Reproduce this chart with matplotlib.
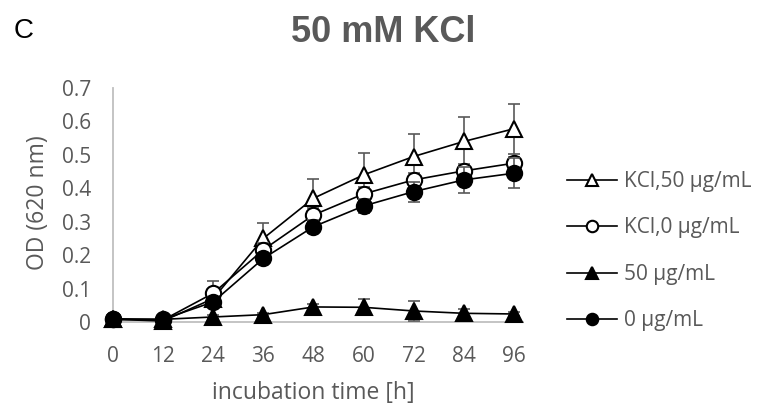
import matplotlib
matplotlib.use("Agg")
import matplotlib.pyplot as plt

# ---- data ----
hours = [0, 12, 24, 36, 48, 60, 72, 84, 96]
tick_labels = ["0", "12", "24", "36", "48", "60", "72", "84", "96"]

kcl_50 = [0.008, 0.003, 0.070, 0.250, 0.370, 0.440, 0.495, 0.540, 0.578]
kcl_50_err = [0.003, 0.003, 0.020, 0.045, 0.058, 0.066, 0.068, 0.072, 0.075]

kcl_0 = [0.010, 0.006, 0.086, 0.216, 0.320, 0.383, 0.425, 0.452, 0.475]
kcl_0_err = [0.003, 0.003, 0.038, 0.020, 0.020, 0.020, 0.020, 0.020, 0.020]

ab_50 = [0.008, 0.008, 0.015, 0.022, 0.045, 0.044, 0.033, 0.026, 0.024]
ab_50_err = [0.002, 0.002, 0.005, 0.005, 0.010, 0.024, 0.030, 0.012, 0.007]

ctrl_0 = [0.008, 0.008, 0.060, 0.190, 0.285, 0.347, 0.390, 0.425, 0.445]
ctrl_0_err = [0.003, 0.003, 0.015, 0.015, 0.020, 0.020, 0.030, 0.040, 0.045]

labels = ["KCl,50 \u00b5g/mL", "KCl,0 \u00b5g/mL", "50 \u00b5g/mL", "0 \u00b5g/mL"]

plt.rcParams['font.family'] = ['Open Sans', 'DejaVu Sans']
gray_txt = "#595959"
fs_tick = 15
fs_title_axis = 16.5

fig = plt.figure(figsize=(7.61, 4.08), dpi=100)
ax = fig.add_axes([113/761, 1-322/408, 410/761, 234/408])

series = [
    (kcl_50, kcl_50_err, "^", "white", 12),
    (kcl_0, kcl_0_err, "o", "white", 11),
    (ab_50, ab_50_err, "^", "black", 12),
    (ctrl_0, ctrl_0_err, "o", "black", 11),
]
handles = []
for i, ((vals, errs, mk, fc, ms), lab) in enumerate(zip(series, labels)):
    ax.errorbar(hours, vals, yerr=errs, fmt="none", ecolor="#595959",
                elinewidth=1.2, capsize=4.5, capthick=1.2, zorder=2 + i*2, clip_on=False)
    ln, = ax.plot(hours, vals, color="black", lw=1.2, marker=mk, markersize=ms,
                  markerfacecolor=fc, markeredgecolor="black", markeredgewidth=1.5,
                  zorder=3 + i*2, clip_on=False, label=lab)
    handles.append(ln)

ax.set_xlim(0, 98.2)
ax.set_ylim(0, 0.7)
ax.set_xticks(hours)
ax.set_xticklabels(tick_labels)
ax.set_yticks([0, 0.1, 0.2, 0.3, 0.4, 0.5, 0.6, 0.7])
ax.set_yticklabels(["0", "0.1", "0.2", "0.3", "0.4", "0.5", "0.6", "0.7"])
ax.tick_params(axis="both", length=0, labelsize=fs_tick, labelcolor=gray_txt)
ax.tick_params(axis="x", pad=17)
ax.tick_params(axis="y", pad=16)
for s in ["top", "right"]:
    ax.spines[s].set_visible(False)
for s in ["left", "bottom"]:
    ax.spines[s].set_color("#BFBFBF")
    ax.spines[s].set_linewidth(1.3)

fig.text(38/761, 1-203/408, "OD (620 nm)", fontsize=fs_title_axis, color=gray_txt,
         rotation=90, ha="center", va="center")
fig.text(313/761, 1-393/408, "incubation time [h]", fontsize=fs_title_axis,
         color=gray_txt, ha="center", va="center")

fig.text(383/761, 1-32/408, "50 mM KCl", fontsize=26, fontweight="bold",
         color=gray_txt, ha="center", va="center", family="Liberation Sans")
fig.text(24/761, 1-31/408, "C", fontsize=20, color="black", ha="center",
         va="center", family="Liberation Sans")

leg = fig.legend(handles=handles, loc="upper left",
                 bbox_to_anchor=(567/761, 1-171/408), frameon=False,
                 fontsize=fs_tick, handlelength=2.4, handletextpad=0.35,
                 labelspacing=1.22, borderpad=0, borderaxespad=0,
                 markerscale=0.75)
for t in leg.get_texts():
    t.set_color(gray_txt)

fig.savefig("out.png", dpi=100)
